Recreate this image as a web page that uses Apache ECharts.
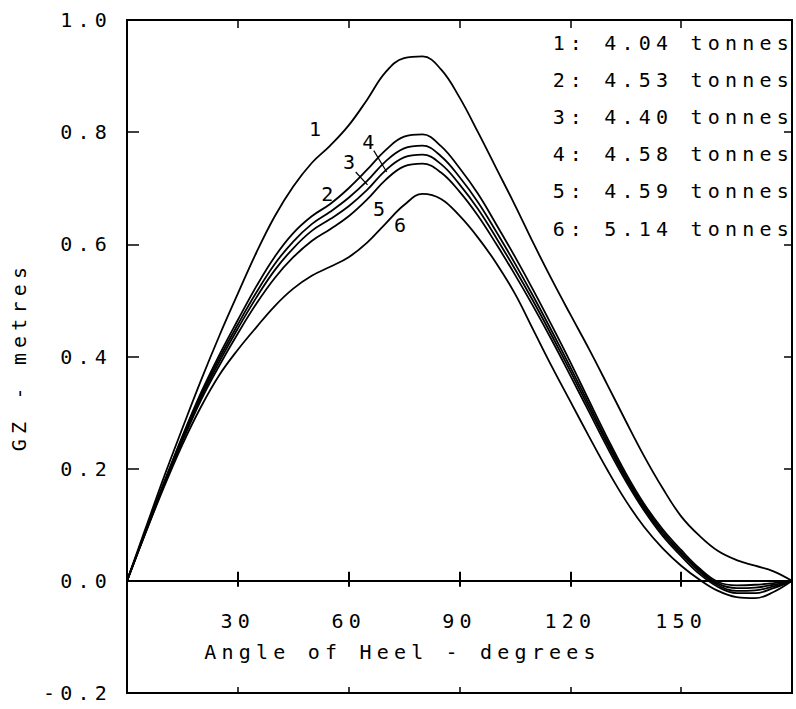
<!DOCTYPE html>
<html><head><meta charset="utf-8">
<script src="https://cdn.jsdelivr.net/npm/echarts@6/dist/echarts.min.js"></script>
<style>
html,body{margin:0;padding:0;background:#fff;}
#chart{width:796px;height:709px;}
#chart svg text{letter-spacing:5.2px;}
</style></head><body><div id="chart"></div>
<script>
// ---- data ----
const angles = [0,5,10,15,20,25,30,35,40,45,50,55,60,65,70,75,80,85,90,95,100,105,110,115,120,125,130,135,140,145,150,155,160,165,170,175,180];
const gz1 = [0,0.093,0.185,0.272,0.357,0.437,0.512,0.585,0.650,0.703,0.745,0.776,0.812,0.858,0.907,0.932,0.935,0.912,0.862,0.800,0.735,0.670,0.602,0.537,0.475,0.414,0.350,0.285,0.222,0.165,0.115,0.080,0.053,0.037,0.027,0.017,0];
const gz2 = [0,0.088,0.175,0.258,0.335,0.403,0.465,0.525,0.578,0.620,0.650,0.672,0.700,0.733,0.768,0.792,0.796,0.775,0.736,0.690,0.635,0.578,0.518,0.455,0.390,0.322,0.255,0.192,0.137,0.092,0.055,0.022,-0.002,-0.008,-0.007,-0.004,0];
const gz3 = [0,0.088,0.174,0.256,0.331,0.397,0.457,0.514,0.565,0.605,0.636,0.658,0.683,0.713,0.748,0.771,0.776,0.757,0.720,0.675,0.622,0.566,0.507,0.445,0.381,0.315,0.249,0.187,0.133,0.088,0.051,0.019,-0.005,-0.013,-0.012,-0.007,0];
const gz4 = [0,0.087,0.172,0.253,0.327,0.391,0.450,0.505,0.554,0.593,0.624,0.645,0.668,0.697,0.732,0.755,0.760,0.743,0.707,0.663,0.611,0.556,0.498,0.437,0.374,0.309,0.244,0.183,0.129,0.084,0.048,0.016,-0.008,-0.018,-0.017,-0.010,0];
const gz5 = [0,0.086,0.170,0.249,0.322,0.384,0.441,0.494,0.540,0.577,0.606,0.627,0.650,0.680,0.715,0.739,0.744,0.728,0.694,0.651,0.600,0.546,0.489,0.429,0.366,0.302,0.238,0.178,0.125,0.080,0.044,0.012,-0.011,-0.022,-0.022,-0.013,0];
const gz6 = [0,0.085,0.167,0.243,0.310,0.367,0.412,0.452,0.490,0.521,0.544,0.560,0.577,0.603,0.637,0.670,0.690,0.681,0.651,0.612,0.566,0.512,0.447,0.382,0.320,0.258,0.198,0.143,0.096,0.058,0.027,0.002,-0.018,-0.029,-0.031,-0.020,0];
const curveNames = ['1','2','3','4','5','6'];
const tonnes = ['4.04','4.53','4.40','4.58','4.59','5.14'];
const curveLabelX = [51.6,54.9,60.8,66.0,68.9,74.6];
const curveLabelY = [0.806,0.690,0.747,0.783,0.663,0.635];
const leader3X = [61.9,65.1], leader3Y = [0.729,0.706];
const leader4X = [66.8,70.3], leader4Y = [0.767,0.729];
const xMin = 0, xMax = 180, xStep = 30;
const yMin = -0.2, yMax = 1.0, yStep = 0.2;
const xTitle = 'Angle of Heel - degrees';
const yTitle = 'GZ - metres';

// ---- rendering ----
const FONT = 'DejaVu Sans Mono';
const LS = 5.2;
const mctx = document.createElement('canvas').getContext('2d');
try { mctx.letterSpacing = LS + 'px'; } catch (e) {}
echarts.setPlatformAPI({
  measureText: function (text, font) { mctx.font = font || '12px sans-serif'; return mctx.measureText(text); }
});

const W = 796, H = 709;
const G = {left:127, right:4, top:20, bottom:16};
const plotH = H - G.top - G.bottom;
const zeroFromTop = G.top + plotH * (yMax - 0) / (yMax - yMin);   // pixel row of y = 0 via the axis scale
const series = [gz1,gz2,gz3,gz4,gz5,gz6];
const chart = echarts.init(document.getElementById('chart'), null, {renderer:'svg', width:W, height:H});
const txt = {fontFamily:FONT, fontSize:20, color:'#000'};
const line2 = {show:true, onZero:false, lineStyle:{color:'#000', width:2}};
const noAxis = {axisLine:{show:false, onZero:false}, axisTick:{show:false}, axisLabel:{show:false}, splitLine:{show:false}};

const option = {
  animation:false,
  backgroundColor:'#fff',
  grid:[
    {left:G.left, right:G.right, top:G.top, bottom:G.bottom, outerBoundsMode:'none', show:true, borderColor:'#000', borderWidth:2, backgroundColor:'transparent'},
    {left:G.left, right:G.right, top:zeroFromTop, bottom:G.bottom, outerBoundsMode:'none', show:false},
    {left:G.left, right:G.right, top:G.top, bottom:H - zeroFromTop, outerBoundsMode:'none', show:false}
  ],
  xAxis:[
    {gridIndex:0, type:'value', min:xMin, max:xMax, interval:xStep, position:'top',
     axisLine:line2, axisTick:{show:true, inside:true, length:8, lineStyle:{color:'#000', width:1.5}},
     axisLabel:{show:false}, splitLine:{show:false}},
    {gridIndex:1, type:'value', min:xMin, max:xMax, interval:xStep, position:'top',
     axisLine:line2, axisTick:{show:true, inside:true, length:6, lineStyle:{color:'#000', width:2}},
     axisLabel:{show:false}, splitLine:{show:false}},
    {gridIndex:1, type:'value', min:xMin, max:xMax, interval:xStep, position:'bottom',
     axisLine:line2, axisTick:{show:true, inside:true, length:6, lineStyle:{color:'#000', width:1.5}},
     axisLabel:{show:false}, splitLine:{show:false}},
    {gridIndex:2, type:'value', min:xMin, max:xMax, interval:xStep, position:'bottom',
     axisLine:line2, axisTick:{show:true, inside:true, length:9, lineStyle:{color:'#000', width:2}},
     axisLabel:Object.assign({show:true, margin:28, showMinLabel:false, showMaxLabel:false}, txt),
     splitLine:{show:false},
     name:xTitle, nameLocation:'middle', nameGap:58,
     nameTextStyle:Object.assign({padding:[0,114,0,0]}, txt)}
  ],
  yAxis:[
    {gridIndex:0, type:'value', min:yMin, max:yMax, interval:yStep, position:'left',
     axisLine:line2, axisTick:{show:true, inside:true, length:12, lineStyle:{color:'#000', width:1.5}},
     axisLabel:Object.assign({show:true, margin:15, formatter:v => v.toFixed(1)}, txt),
     splitLine:{show:false},
     name:yTitle, nameLocation:'middle', nameGap:95, nameTextStyle:txt},
    {gridIndex:0, type:'value', min:yMin, max:yMax, interval:yStep, position:'right',
     axisLine:line2, axisTick:{show:true, inside:true, length:8, lineStyle:{color:'#000', width:1.5}},
     axisLabel:{show:false}, splitLine:{show:false}},
    Object.assign({gridIndex:1, type:'value', min:yMin, max:0}, noAxis),
    Object.assign({gridIndex:2, type:'value', min:0, max:yMax}, noAxis)
  ],
  legend:{
    data:curveNames, orient:'vertical', right:2, top:30, padding:0,
    icon:'none', itemWidth:0, itemHeight:20, itemGap:12, align:'left', selectedMode:false,
    formatter:n => n + ': ' + tonnes[curveNames.indexOf(n)] + ' tonnes',
    textStyle:Object.assign({lineHeight:20, padding:[0,0,0,-5]}, txt)
  },
  series: series.map((arr, i) => ({
    name:curveNames[i], type:'line', xAxisIndex:0, yAxisIndex:0,
    data: angles.map((a, j) => [a, arr[j]]),
    smooth:0.4, symbol:'none', clip:false,
    lineStyle:{color:'#000', width:1.8}, itemStyle:{color:'#000'}
  })).concat([
    {type:'scatter', xAxisIndex:0, yAxisIndex:0, symbolSize:0, silent:true,
     itemStyle:{opacity:1, color:'#000'},
     data: curveNames.map((n, i) => ({name:n, value:[curveLabelX[i], curveLabelY[i]]})),
     label:Object.assign({show:true, position:'inside', formatter:'{b}', opacity:1}, txt)},
    {type:'line', xAxisIndex:0, yAxisIndex:0, symbol:'none', silent:true,
     data: leader3X.map((x, i) => [x, leader3Y[i]]), lineStyle:{color:'#000', width:1.2}},
    {type:'line', xAxisIndex:0, yAxisIndex:0, symbol:'none', silent:true,
     data: leader4X.map((x, i) => [x, leader4Y[i]]), lineStyle:{color:'#000', width:1.2}}
  ])
};
chart.setOption(option);
</script></body></html>
